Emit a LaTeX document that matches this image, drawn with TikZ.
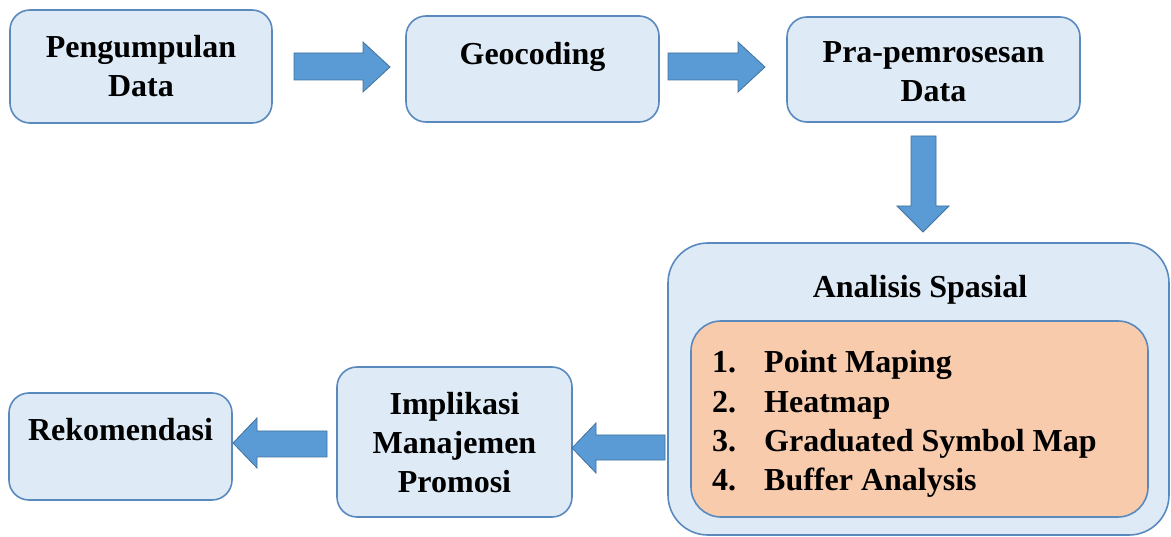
\documentclass[tikz,border=0pt]{standalone}
\usepackage{fontspec}
\setmainfont{Liberation Serif}
\definecolor{boxfill}{HTML}{DEEBF7}
\definecolor{boxline}{HTML}{5A89BE}
\definecolor{arrfill}{HTML}{5B9BD5}
\definecolor{arrline}{HTML}{41719C}
\definecolor{orfill}{HTML}{F8CBAD}
\tikzset{
  stepbox/.style={draw=boxline, line width=1.6pt, fill=boxfill, rounded corners=20pt,
    inner sep=0pt, align=center, font=\fontsize{32}{40}\selectfont\bfseries},
  blockarrow/.style={draw=arrline, line width=0.8pt, fill=arrfill},
  txt/.style={inner sep=0pt, align=center, font=\fontsize{32}{39}\selectfont\bfseries},
}
\begin{document}
\begin{tikzpicture}[x=1pt,y=-1pt]
\useasboundingbox (0,0) rectangle (1171,537);
% top row
\node[stepbox, minimum width=262pt, minimum height=113pt] (pd) at (141,66.5) {};
\node[txt] (pdt) at (141,66.5) {Pengumpulan\\Data};
\node[stepbox, minimum width=253pt, minimum height=106pt] (geo) at (532.5,69) {};
\node[txt, anchor=base] (geot) at (532.5,65) {Geocoding};
\node[stepbox, minimum width=293pt, minimum height=105pt] (pre) at (933.5,69.5) {};
\node[txt] (pret) at (933.5,72) {Pra-pemrosesan\\Data};
% analysis
\node[stepbox, rounded corners=40pt, minimum width=501pt, minimum height=292pt] (ana) at (918.5,389) {};
\node[txt, anchor=base] (anat) at (920,298) {Analisis Spasial};
\node[stepbox, fill=orfill, rounded corners=30pt, minimum width=457pt, minimum height=196pt] (list) at (919.5,419) {};
\node[txt, anchor=base west] (l1) at (712,373) {\makebox[52pt][l]{1.}Point Maping};
\node[txt, anchor=base west] (l2) at (712,413) {\makebox[52pt][l]{2.}Heatmap};
\node[txt, anchor=base west] (l3) at (712,451) {\makebox[52pt][l]{3.}Graduated Symbol Map};
\node[txt, anchor=base west] (l4) at (712,490) {\makebox[52pt][l]{4.}Buffer Analysis};
% bottom row
\node[stepbox, minimum width=235pt, minimum height=150pt] (imp) at (454.5,442) {};
\node[txt] (impt) at (454.5,443) {Implikasi\\Manajemen\\Promosi};
\node[stepbox, minimum width=223pt, minimum height=107pt] (rek) at (120.5,446.5) {};
\node[txt, anchor=base] (rekt) at (120.5,440) {Rekomendasi};
% block arrows
\draw[blockarrow] (294,53) -- (363,53) -- (363,42) -- (390,67) -- (363,92) -- (363,80) -- (294,80) -- cycle;
\draw[blockarrow] (668,53) -- (738,53) -- (738,42) -- (765,67) -- (738,92) -- (738,80) -- (668,80) -- cycle;
\draw[blockarrow] (911,136) -- (936,136) -- (936,206) -- (949,206) -- (923,232) -- (897,206) -- (911,206) -- cycle;
\draw[blockarrow] (327,431) -- (257,431) -- (257,418) -- (233,443) -- (257,468) -- (257,457) -- (327,457) -- cycle;
\draw[blockarrow] (665,435) -- (596,435) -- (596,423) -- (572,448) -- (596,473) -- (596,460) -- (665,460) -- cycle;
\end{tikzpicture}
\end{document}
